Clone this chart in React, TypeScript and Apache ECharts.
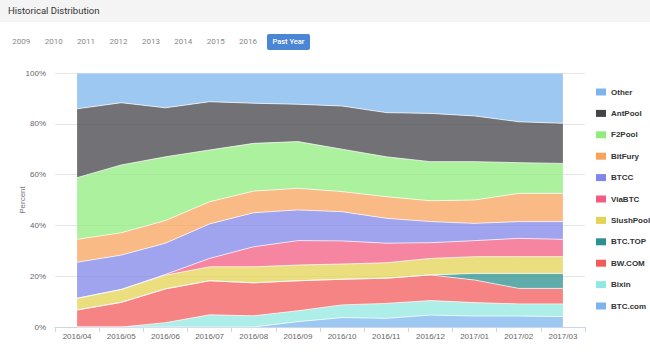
import React, { useEffect, useRef } from "react";
import * as echarts from "echarts";

const categories = ["2016/04", "2016/05", "2016/06", "2016/07", "2016/08", "2016/09", "2016/10", "2016/11", "2016/12", "2017/01", "2017/02", "2017/03"];
const years = ["2009", "2010", "2011", "2012", "2013", "2014", "2015", "2016"];
const yTicks = [0, 20, 40, 60, 80, 100];

// values in percent, bottom of stack first
const btcCom = [0, 0, 0, 0, 0, 2.1, 3.7, 3.4, 4.7, 4.3, 4.3, 4.1];
const bixin = [0, 0, 1.7, 4.8, 4.4, 4.3, 5.0, 5.9, 5.7, 5.3, 4.8, 5.0];
const bwCom = [6.7, 9.7, 13.3, 13.4, 13.0, 11.8, 10.1, 9.9, 10.1, 8.9, 6.1, 6.1];
const btcTop = [0, 0, 0, 0, 0, 0, 0, 0, 0, 2.6, 5.9, 5.9];
const slushPool = [4.6, 5.1, 5.4, 5.5, 6.3, 6.2, 6.0, 6.1, 6.5, 6.6, 6.6, 6.6];
const viaBtc = [0, 0, 0.3, 3.3, 7.9, 9.6, 9.1, 7.7, 6.2, 6.3, 7.2, 6.8];
const btcc = [14.2, 13.5, 12.3, 13.6, 13.4, 12.1, 11.5, 9.8, 8.3, 6.8, 6.6, 7.0];
const bitFury = [9.0, 8.8, 8.9, 8.7, 8.5, 8.5, 7.9, 8.5, 8.2, 9.2, 11.1, 11.1];
const f2Pool = [24.3, 26.7, 25.1, 20.4, 18.8, 18.4, 16.7, 15.7, 15.4, 15.1, 12.1, 11.8];
const antPool = [27.1, 24.5, 19.3, 19.0, 15.8, 14.7, 17.0, 17.4, 19.0, 18.0, 16.1, 15.8];
const other = [14.1, 11.7, 13.7, 11.3, 11.9, 12.3, 13.0, 15.6, 15.9, 16.9, 19.2, 19.8];

const seriesNames = ["BTC.com", "Bixin", "BW.COM", "BTC.TOP", "SlushPool", "ViaBTC", "BTCC", "BitFury", "F2Pool", "AntPool", "Other"];
const seriesData = [btcCom, bixin, bwCom, btcTop, slushPool, viaBtc, btcc, bitFury, f2Pool, antPool, other];
const seriesColors = ["#7cb5ec", "#91e8e1", "#f45b5b", "#2b908f", "#e4d354", "#f15c80", "#8085e9", "#f7a35c", "#90ed7d", "#434348", "#7cb5ec"];

const FONT = "'Liberation Sans', Arial, sans-serif";

export default function App() {
  const ref = useRef<HTMLDivElement>(null);

  useEffect(() => {
    document.body.style.margin = "0";
    if (!ref.current) return;
    const chart = echarts.init(ref.current, null, { renderer: "svg" });
    const series = seriesNames.map((name, i) => ({
      name,
      type: "line",
      stack: "total",
      data: seriesData[i],
      symbol: "none",
      color: seriesColors[i],
      itemStyle: { color: seriesColors[i] },
      lineStyle: { width: 1, color: "#ffffff", opacity: 0.7 },
      areaStyle: { color: seriesColors[i], opacity: 0.75 },
      emphasis: { disabled: true },
    }));
    chart.setOption({
      animation: false,
      textStyle: { fontFamily: FONT },
      grid: { left: 55, right: 65, top: 73, bottom: 25, containLabel: false },
      legend: {
        orient: "vertical",
        left: 596,
        top: 88,
        padding: 0,
        itemWidth: 10,
        itemHeight: 7,
        itemGap: 13.4,
        icon: "rect",
        data: [...seriesNames].reverse().map((n) => ({ name: n })),
        textStyle: { fontSize: 8, fontWeight: "bold", color: "#333333", fontFamily: FONT },
      },
      xAxis: {
        type: "category",
        data: categories,
        boundaryGap: true,
        axisLine: { lineStyle: { color: "#ccd6eb" } },
        axisTick: { show: true, alignWithLabel: false, length: 5, lineStyle: { color: "#ccd6eb" } },
        axisLabel: { fontSize: 8, color: "#666666", margin: 5, fontFamily: FONT },
      },
      yAxis: {
        type: "value",
        min: yTicks[0],
        max: yTicks[yTicks.length - 1],
        interval: 20,
        name: "Percent",
        nameLocation: "middle",
        nameRotate: 90,
        nameGap: 29,
        nameMoveOverlap: false,
        nameTextStyle: { fontSize: 8, color: "#777777", fontFamily: FONT },
        axisLine: { show: false },
        axisTick: { show: false },
        axisLabel: { fontSize: 8, color: "#666666", margin: 9, formatter: "{value}%", fontFamily: FONT },
        splitLine: { lineStyle: { color: "#e6e6e6" } },
      },
      series,
    });
    return () => chart.dispose();
  }, []);

  return (
    <div style={{ position: "relative", width: 650, height: 352, background: "#ffffff", overflow: "hidden" }}>
      <div style={{ position: "absolute", left: 0, top: 0, width: 650, height: 22, background: "#f4f4f4" }}>
        <span style={{ position: "absolute", left: 8, top: 5, fontFamily: "Roboto, Arial, sans-serif", fontSize: 9.5, color: "#333333", lineHeight: "12px" }}>
          Historical Distribution
        </span>
      </div>
      {years.map((y, i) => (
        <span
          key={y}
          style={{
            position: "absolute",
            left: 21.3 + i * 32.4,
            top: 37,
            transform: "translateX(-50%)",
            fontFamily: "Roboto, Arial, sans-serif",
            fontSize: 8,
            color: "#888888",
            lineHeight: "10px",
          }}
        >
          {y}
        </span>
      ))}
      <div
        style={{
          position: "absolute",
          left: 267,
          top: 34,
          width: 43,
          height: 16,
          background: "#4a86d4",
          borderRadius: 2,
          color: "#ffffff",
          fontFamily: "Roboto, Arial, sans-serif",
          fontSize: 7.5,
          fontWeight: 500,
          lineHeight: "16px",
          textAlign: "center",
        }}
      >
        Past Year
      </div>
      <div ref={ref} style={{ position: "absolute", left: 0, top: 0, width: 650, height: 352 }} />
    </div>
  );
}
